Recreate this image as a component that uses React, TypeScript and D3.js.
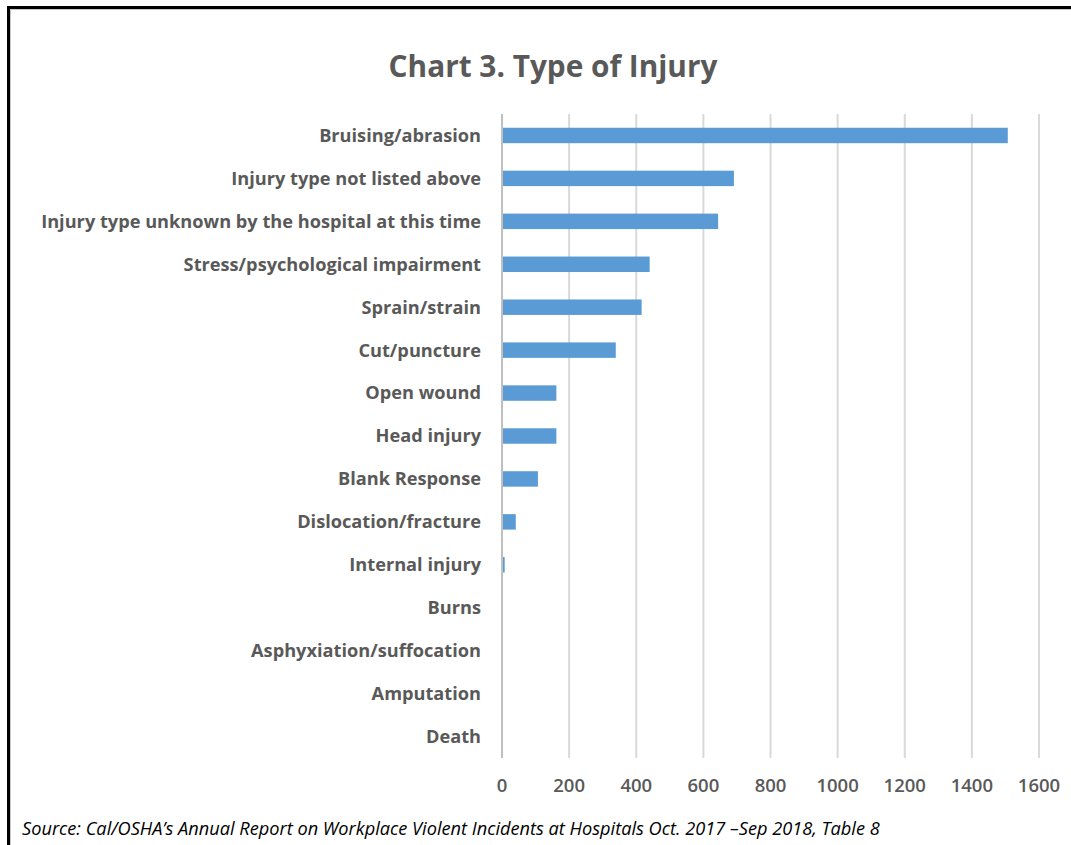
import React from "react";
import * as d3 from "d3";

const categories = [
  "Bruising/abrasion",
  "Injury type not listed above",
  "Injury type unknown by the hospital at this time",
  "Stress/psychological impairment",
  "Sprain/strain",
  "Cut/puncture",
  "Open wound",
  "Head injury",
  "Blank Response",
  "Dislocation/fracture",
  "Internal injury",
  "Burns",
  "Asphyxiation/suffocation",
  "Amputation",
  "Death",
];
const values = [1507, 691, 644, 440, 416, 339, 162, 162, 107, 41, 8, 0, 0, 0, 0];
const xTicks = [0, 200, 400, 600, 800, 1000, 1200, 1400, 1600];

const W = 1071;
const H = 845;
const FONT = "'Open Sans', Lato, sans-serif";
const TEXT = "#595959";

export default function App() {
  const x = d3.scaleLinear().domain([0, 1600]).range([502, 1039]);
  const y = d3
    .scaleBand<string>()
    .domain(categories)
    .range([114, 758])
    .paddingInner(0.64)
    .paddingOuter(0.32);
  const bh = y.bandwidth();

  return (
    <svg
      width={W}
      height={H}
      style={{ position: "absolute", left: 0, top: 0, background: "#fff" }}
    >
      <rect x={0} y={0} width={W} height={H} fill="#fff" />
      {/* frame */}
      <line x1={8.5} y1={6} x2={8.5} y2={H} stroke="#000" strokeWidth={3} />
      <line x1={7} y1={7.5} x2={W} y2={7.5} stroke="#000" strokeWidth={3} />
      <line x1={10.5} y1={9.5} x2={10.5} y2={H} stroke="#c8c8c8" strokeWidth={1} />
      <line x1={10} y1={9.5} x2={W} y2={9.5} stroke="#c8c8c8" strokeWidth={1} />

      <text
        x={553}
        y={77}
        textAnchor="middle"
        fontFamily={FONT}
        fontWeight="bold"
        fontSize={29.8}
        fill={TEXT}
      >
        Chart 3. Type of Injury
      </text>

      {/* gridlines */}
      {xTicks.map((t) => (
        <line
          key={t}
          x1={x(t)}
          x2={x(t)}
          y1={114}
          y2={758}
          stroke={t === 0 ? "#bfbfbf" : "#d9d9d9"}
          strokeWidth={2}
        />
      ))}

      {/* bars */}
      {categories.map((c, i) =>
        values[i] > 0 ? (
          <rect
            key={c}
            x={x(0) + 1}
            y={y(c)!}
            width={Math.max(0, x(values[i]) - x(0) - 1)}
            height={bh}
            fill="#5B9BD5"
          />
        ) : null
      )}

      {/* category labels */}
      {categories.map((c) => (
        <text
          key={c}
          x={481}
          y={y(c)! + bh / 2}
          dy="0.35em"
          textAnchor="end"
          fontFamily={FONT}
          fontWeight="bold"
          fontSize={18.2}
          fill={TEXT}
        >
          {c}
        </text>
      ))}

      {/* tick labels */}
      {xTicks.map((t) => (
        <text
          key={t}
          x={x(t)}
          y={792}
          textAnchor="middle"
          fontFamily={FONT}
          fontWeight={600}
          fontSize={18.5}
          fill={TEXT}
        >
          {t}
        </text>
      ))}

      <text
        x={22}
        y={835}
        fontFamily={FONT}
        fontStyle="italic"
        fontSize={18.2}
        fill="#000"
      >
        Source: Cal/OSHA’s Annual Report on Workplace Violent Incidents at Hospitals Oct. 2017 –Sep 2018, Table 8
      </text>
    </svg>
  );
}
